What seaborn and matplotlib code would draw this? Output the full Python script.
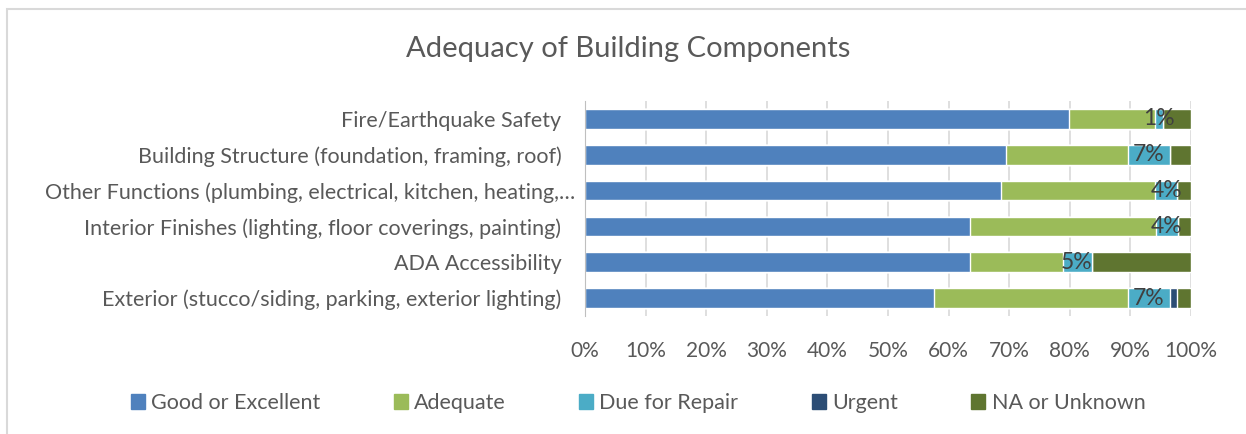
import numpy as np
import pandas as pd
import matplotlib
matplotlib.use("Agg")
import matplotlib.pyplot as plt
import seaborn as sns
from matplotlib.patches import Rectangle
from matplotlib.transforms import ScaledTranslation

categories = [
    "Fire/Earthquake Safety",
    "Building Structure (foundation, framing, roof)",
    "Other Functions (plumbing, electrical, kitchen, heating,\u2026",
    "Interior Finishes (lighting, floor coverings, painting)",
    "ADA Accessibility",
    "Exterior (stucco/siding, parking, exterior lighting)",
]
series = ["Good or Excellent", "Adequate", "Due for Repair", "Urgent", "NA or Unknown"]
good = [79.8, 69.4, 68.6, 63.5, 63.5, 57.6]
adequate = [14.3, 20.2, 25.5, 30.7, 15.3, 32.0]
due = [1.3, 6.9, 3.6, 3.6, 4.8, 6.9]
urgent = [0.0, 0.0, 0.0, 0.0, 0.0, 1.2]
na = [4.6, 3.5, 2.3, 2.2, 16.4, 2.3]
colors = ["#4F81BD", "#9BBB59", "#4BACC6", "#2C4D75", "#5F7530"]

df = pd.DataFrame({"category": categories, series[0]: good, series[1]: adequate,
                   series[2]: due, series[3]: urgent, series[4]: na})
cum = df[series].cumsum(axis=1)

sns.set_style("white")
plt.rcParams["font.family"] = ["Lato", "DejaVu Sans"]
text_col = "#595959"

fig = plt.figure(figsize=(12.46, 4.34), dpi=100)
ax = fig.add_axes([585 / 1246, 1 - 316 / 434, 606 / 1246, 215 / 434])

# stacked bars: draw cumulative totals from the outermost layer inwards
for name, col in reversed(list(zip(series, colors))):
    sns.barplot(x=cum[name], y=df["category"], color=col, width=0.55,
                saturation=1, orient="h", ax=ax, zorder=2)

# labels on the "Due for Repair" segment
for i, (g, a, d) in enumerate(zip(good, adequate, due)):
    ax.text(g + a + d / 2, i, f"{round(d)}%", ha="center", va="center",
            fontsize=16.5, color="#404040", zorder=3)

ax.set_xlim(0, 100)
ax.set_xticks(np.arange(0, 101, 10))
ax.set_xticklabels([f"{v}%" for v in range(0, 101, 10)])
ax.xaxis.grid(True, color="#D9D9D9", linewidth=1.2, zorder=0)
ax.set_axisbelow(True)
ax.set_xlabel("")
ax.set_ylabel("")
for s in ["top", "right", "bottom"]:
    ax.spines[s].set_visible(False)
ax.spines["left"].set_color("#BFBFBF")
ax.tick_params(axis="both", length=0, labelcolor=text_col)
ax.tick_params(axis="x", pad=18, labelsize=15)
ax.tick_params(axis="y", pad=17, labelsize=15.5)
# the truncated label sits a little further right, as in the original
lbl = ax.get_yticklabels()[2]
lbl.set_transform(lbl.get_transform() + ScaledTranslation(0.14, 0, fig.dpi_scale_trans))

fig.text(628 / 1246, 1 - 49 / 434, "Adequacy of Building Components",
         ha="center", va="center", fontsize=21, color=text_col)

handles = [Rectangle((0, 0), 1, 1, color=c) for c in colors]
fig.legend(handles, series, loc="center", bbox_to_anchor=(638 / 1246, 1 - 403 / 434),
           ncol=5, frameon=False, fontsize=15.5, labelcolor=text_col,
           handlelength=0.65, handleheight=0.65, handletextpad=0.3, columnspacing=3.4)

# chart frame
fig.patches.append(Rectangle((7 / 1246, -0.1), 1.2, 1 - 9 / 434 + 0.1,
                             transform=fig.transFigure, fill=False,
                             edgecolor="#D9D9D9", linewidth=1.5))

fig.savefig("out.png", dpi=100)
